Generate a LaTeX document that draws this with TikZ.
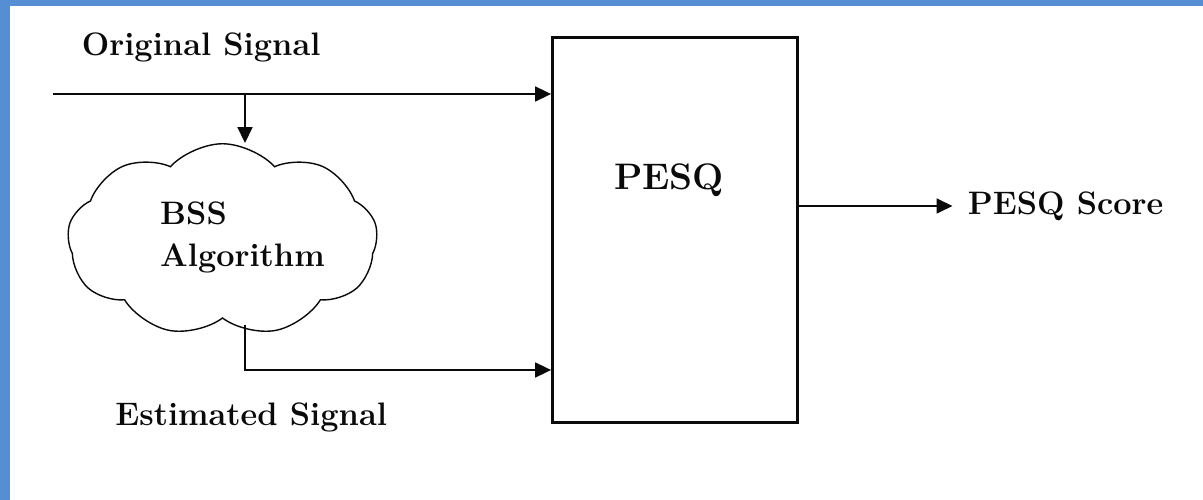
\documentclass[tikz,border=0pt]{standalone}
\usepackage{tikz}
\usetikzlibrary{arrows.meta,positioning,shapes.symbols}
\definecolor{frameblue}{RGB}{86,142,212}
\definecolor{ink}{RGB}{10,10,10}
\tikzset{
  >={Triangle[length=3.2mm,width=3mm]},
  lbl/.style={font=\fontsize{18.5}{22}\selectfont\bfseries,text=ink,inner sep=0pt},
  block/.style={draw=ink,line width=1.6pt,minimum width=4.9cm,minimum height=7.7cm},
  puff/.style={cloud,cloud puffs=9,cloud puff arc=95,aspect=1.6,draw=ink,thick,
    minimum width=6.2cm,minimum height=3.85cm,inner sep=0pt},
  flow/.style={->,draw=ink,line width=1pt},
}
\begin{document}
\begin{tikzpicture}
  % frame
  \fill[white] (0,0) rectangle (24.06,-10);
  \useasboundingbox (0,0) rectangle (24.06,-10);
  \fill[frameblue] (0,0) rectangle (24.06,-0.13);
  \fill[frameblue] (0,0) rectangle (0.2,-10);
  % blocks
  \node[block] (pesq) at (13.5,-4.6) {};
  \node[font=\fontsize{21}{25}\selectfont\bfseries,text=ink] (pesqtxt) at (13.38,-3.6) {PESQ};
  \node[puff] (bss) at (4.45,-4.8) {};
  \node[lbl,align=left] (bsstxt) at (4.85,-4.75) {BSS\\[2pt]Algorithm};
  % labels
  \node[lbl,anchor=west] (orig) at (1.63,-0.95) {Original Signal};
  \node[lbl,anchor=west] (est) at (2.3,-8.35) {Estimated Signal};
  \node[lbl,anchor=west] (score) at (19.35,-4.12) {PESQ Score};
  % connectors
  \coordinate (src) at (1.06,-1.88);
  \coordinate (tap) at (4.9,-1.88);
  \coordinate (bssout) at (4.9,-6.5);
  \draw[flow] (src) -- (src -| pesq.west);
  \draw[flow] (tap) -- (bss.north -| tap);
  \draw[flow] (bssout) |- ([yshift=-2.8cm]pesq.west);
  \draw[flow] (pesq.east |- score.west) -- ([xshift=-0.3cm]score.west);
\end{tikzpicture}
\end{document}
